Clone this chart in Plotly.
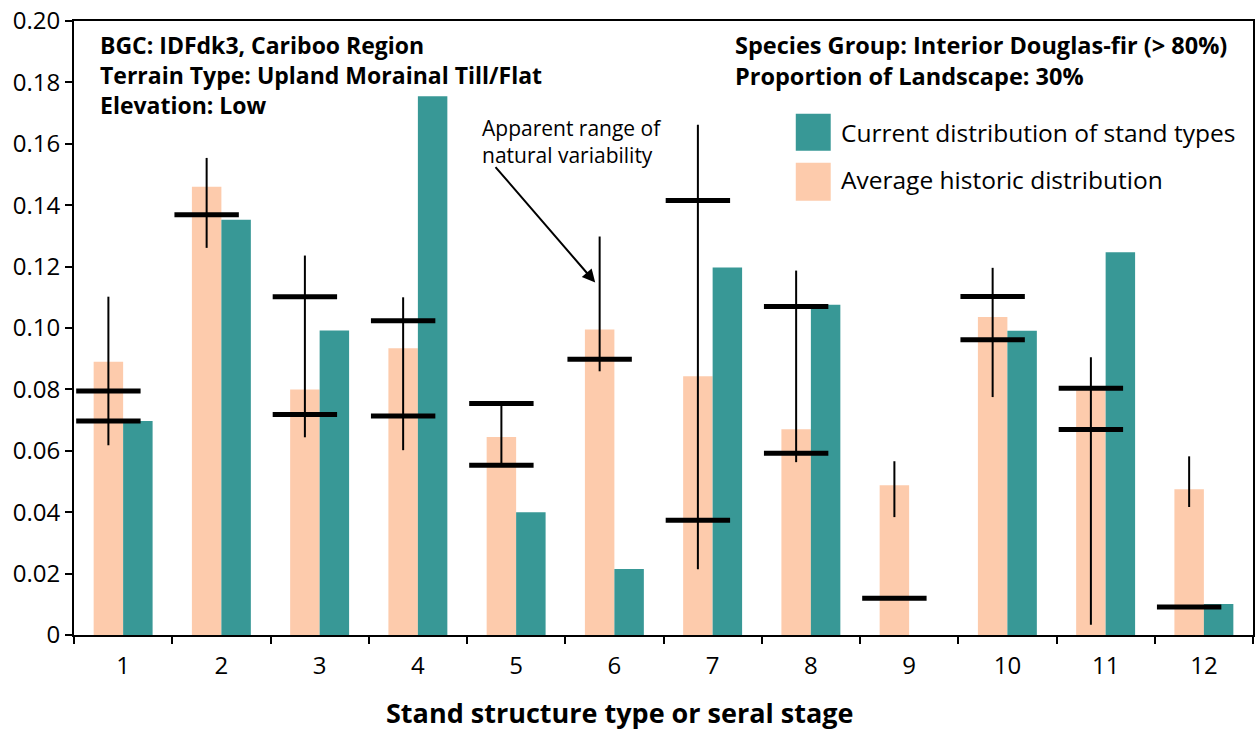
import plotly.graph_objects as go

# ---------------- data ----------------
categories = [1, 2, 3, 4, 5, 6, 7, 8, 9, 10, 11, 12]
historic = [0.089, 0.146, 0.080, 0.0934, 0.0645, 0.0995, 0.0843, 0.067, 0.0488, 0.1036, 0.080, 0.0475]
current = [0.0697, 0.1353, 0.0992, 0.1755, 0.040, 0.0215, 0.1197, 0.1076, 0.0, 0.0991, 0.1247, 0.0101]
range_low = [0.0618, 0.1261, 0.0644, 0.0602, 0.0553, 0.0859, 0.0214, 0.0563, 0.0384, 0.0775, 0.0033, 0.0417]
range_high = [0.1102, 0.1554, 0.1236, 0.110, 0.0754, 0.1298, 0.1662, 0.1187, 0.0566, 0.1196, 0.0905, 0.0582]
mark_upper = [0.0795, 0.1369, 0.1102, 0.1024, 0.0754, 0.0898, 0.1415, 0.1070, None, 0.1103, 0.0804, None]
mark_lower = [0.0697, None, 0.0718, 0.0713, 0.0553, None, 0.0374, 0.0592, 0.0120, 0.0962, 0.0669, 0.0091]
y_ticks = [0, 0.02, 0.04, 0.06, 0.08, 0.10, 0.12, 0.14, 0.16, 0.18, 0.20]
y_tick_labels = ["0", "0.02", "0.04", "0.06", "0.08", "0.10", "0.12", "0.14", "0.16", "0.18", "0.20"]

PEACH = "#FDCBAC"
TEAL = "#389896"
FONT = "Open Sans"

# page geometry (the page body margin is removed by a post script)
W, H = 1258, 730
ML, MR, MT = 74, 3, 20
PLOT_BOTTOM = 635
MB = H - PLOT_BOTTOM
PW, PH = W - ML - MR, H - MT - MB


def px(xp):
    """reference-picture x pixel -> paper coordinate"""
    return (xp - ML) / PW


def py(yp):
    """reference-picture y pixel -> paper coordinate"""
    return (PLOT_BOTTOM - yp) / PH


fig = go.Figure()

fig.add_trace(go.Bar(x=categories, y=historic, marker=dict(color=PEACH, line=dict(width=0)),
                     name="Average historic distribution", showlegend=False))
fig.add_trace(go.Bar(x=categories, y=current, marker=dict(color=TEAL, line=dict(width=0)),
                     name="Current distribution of stand types", showlegend=False))

# range of natural variability (centered on historic bar)
offset = -0.15
lx, ly = [], []
for c, lo, hi in zip(categories, range_low, range_high):
    lx += [c + offset, c + offset, None]
    ly += [lo, hi, None]
fig.add_trace(go.Scatter(x=lx, y=ly, mode="lines", line=dict(color="black", width=2),
                         showlegend=False, hoverinfo="skip"))

mx, my = [], []
for c, u, l in zip(categories, mark_upper, mark_lower):
    for v in (u, l):
        if v is not None:
            mx.append(c + offset)
            my.append(v)
fig.add_trace(go.Scatter(x=mx, y=my, mode="markers",
                         marker=dict(symbol="line-ew", size=46,
                                     line=dict(color="black", width=5)),
                         showlegend=False, hoverinfo="skip"))

BOLD = dict(family=FONT, size=23, color="black", weight="bold")
annotations = []
# top-left block
annotations.append(dict(x=px(98), y=py(26), xref="paper", yref="paper",
                        text="BGC: IDFdk3, Cariboo Region<br>Terrain Type: Upland Morainal Till/Flat<br>Elevation: Low",
                        showarrow=False, xanchor="left", yanchor="top", align="left", font=BOLD))
# top-right block
annotations.append(dict(x=px(734), y=py(26), xref="paper", yref="paper",
                        text="Species Group: Interior Douglas-fir (> 80%)<br>Proportion of Landscape: 30%",
                        showarrow=False, xanchor="left", yanchor="top", align="left",
                        font=dict(family=FONT, size=23.5, color="black", weight="bold")))
# legend text
for txt, yc in [("Current distribution of stand types", 132),
                ("Average historic distribution", 179)]:
    annotations.append(dict(x=px(840), y=py(yc), xref="paper", yref="paper", text=txt,
                            showarrow=False, xanchor="left", yanchor="middle",
                            font=dict(family=FONT, size=24.5, color="black")))
# arrow annotation text
annotations.append(dict(x=px(481), y=py(141), xref="paper", yref="paper",
                        text="Apparent range of<br>natural variability",
                        showarrow=False, xanchor="left", yanchor="middle", align="left",
                        font=dict(family=FONT, size=21, color="black")))
annotations.append(dict(x=5.805, y=0.1148, xref="x", yref="y",
                        ax=-101, ay=-117, text="",
                        showarrow=True, arrowhead=2, arrowsize=1.3, arrowwidth=2,
                        arrowcolor="black"))
# x axis title
annotations.append(dict(x=px(620), y=py(713), xref="paper", yref="paper",
                        text="Stand structure type or seral stage", showarrow=False,
                        xanchor="center", yanchor="middle",
                        font=dict(family=FONT, size=27, color="black", weight="bold")))

shapes = [
    dict(type="rect", xref="paper", yref="paper", x0=px(797), x1=px(832), y0=py(113), y1=py(150),
         fillcolor=TEAL, line=dict(width=0)),
    dict(type="rect", xref="paper", yref="paper", x0=px(797), x1=px(832), y0=py(162), y1=py(200),
         fillcolor=PEACH, line=dict(width=0)),
]

fig.update_layout(
    width=W, height=H,
    margin=dict(l=ML, r=MR, t=MT, b=MB),
    paper_bgcolor="white", plot_bgcolor="white",
    barmode="group", bargap=0.4, bargroupgap=0,
    font=dict(family=FONT, color="black"),
    annotations=annotations, shapes=shapes,
    xaxis=dict(range=[0.5, 12.5], tickvals=categories, ticktext=[str(c) for c in categories],
               ticks="outside", ticklen=8, tickcolor="rgba(0,0,0,0)",
               tickfont=dict(family=FONT, size=24, color="black"),
               showgrid=False, zeroline=False, showline=True, linecolor="black", linewidth=2,
               mirror=True,
               minor=dict(tickvals=[c - 0.5 for c in categories] + [12.5], ticks="outside",
                          ticklen=7, tickwidth=1.5, tickcolor="black")),
    yaxis=dict(range=[0, 0.2], tickvals=y_ticks, ticktext=y_tick_labels,
               ticks="outside", ticklen=7, tickwidth=1.5, tickcolor="black",
               tickfont=dict(family=FONT, size=24, color="black"),
               showgrid=False, zeroline=False, showline=True, linecolor="black", linewidth=2,
               mirror=True),
)

fig.write_html("out.html", config={"displayModeBar": False},
               post_script="document.body.style.margin='0';document.body.style.overflow='hidden';")
